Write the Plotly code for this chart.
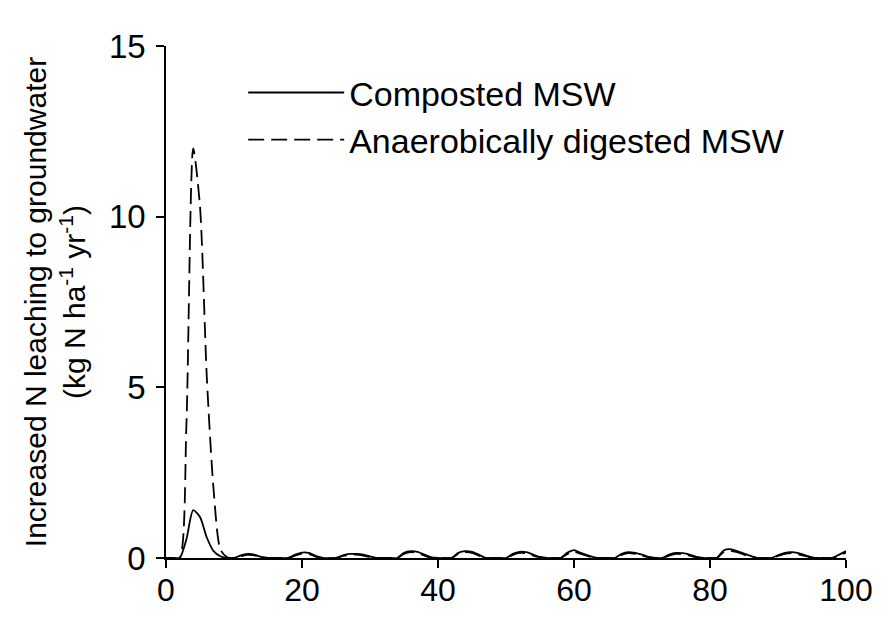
import plotly.graph_objects as go

years = list(range(0, 101))

composted = [
    0, 0, 0, 0.55, 1.4, 1.2, 0.6, 0.2, 0.05, 0,          # 0-9
    0, 0.08, 0.12, 0.1, 0.03, 0, 0, 0, 0, 0.1,            # 10-19
    0.16, 0.15, 0.06, 0, 0, 0, 0.08, 0.12, 0.12, 0.1,     # 20-29
    0.05, 0, 0, 0, 0, 0.15, 0.2, 0.18, 0.1, 0.02,         # 30-39
    0, 0, 0, 0.15, 0.2, 0.18, 0.1, 0, 0, 0,               # 40-49
    0, 0.12, 0.18, 0.17, 0.1, 0.03, 0, 0, 0, 0.15,        # 50-59
    0.23, 0.15, 0.08, 0.02, 0, 0, 0, 0.12, 0.17, 0.15,    # 60-69
    0.1, 0.03, 0, 0, 0.1, 0.15, 0.14, 0.1, 0.03, 0,       # 70-79
    0, 0, 0.22, 0.26, 0.2, 0.13, 0.06, 0, 0, 0,           # 80-89
    0.08, 0.15, 0.17, 0.14, 0.08, 0.02, 0, 0, 0, 0.1,     # 90-99
    0.2,                                                  # 100
]

digested = [
    0, 0, 0, 3.9, 12.0, 10.3, 5.3, 2.0, 0.25, 0.02,       # 0-9
    0, 0.05, 0.09, 0.08, 0.02, 0, 0, 0, 0, 0.07,          # 10-19
    0.13, 0.12, 0.04, 0, 0, 0, 0.06, 0.1, 0.1, 0.07,      # 20-29
    0.03, 0, 0, 0, 0, 0.12, 0.17, 0.15, 0.07, 0.01,       # 30-39
    0, 0, 0, 0.12, 0.17, 0.15, 0.07, 0, 0, 0,             # 40-49
    0, 0.09, 0.15, 0.14, 0.07, 0.02, 0, 0, 0, 0.11,       # 50-59
    0.19, 0.12, 0.06, 0.01, 0, 0, 0, 0.09, 0.14, 0.12,    # 60-69
    0.07, 0.02, 0, 0, 0.07, 0.12, 0.11, 0.07, 0.02, 0,    # 70-79
    0, 0, 0.17, 0.21, 0.17, 0.1, 0.04, 0, 0, 0,           # 80-89
    0.06, 0.12, 0.14, 0.11, 0.06, 0.01, 0, 0, 0, 0.08,    # 90-99
    0.16,                                                 # 100
]

x_ticks = [0, 20, 40, 60, 80, 100]
y_ticks = [0, 5, 10, 15]

font_family = "Liberation Sans, Arial, sans-serif"

fig = go.Figure()
fig.add_trace(go.Scatter(
    x=years, y=composted, mode="lines", name="Composted MSW",
    line=dict(color="black", width=1.8, shape="spline", smoothing=0.7),
))
fig.add_trace(go.Scatter(
    x=years, y=digested, mode="lines", name="Anaerobically digested MSW",
    line=dict(color="black", width=1.8, dash="16px,7px", shape="spline", smoothing=0.7),
))

# page body has an 8px margin, so the figure is sized to fit inside the window
fig.update_layout(
    width=866, height=601,
    margin=dict(l=158, r=28, t=38, b=51),
    paper_bgcolor="white", plot_bgcolor="white",
    font=dict(family=font_family, size=32, color="black"),
    showlegend=True,
    legend=dict(
        x=0.1135, y=0.965, xanchor="left", yanchor="top",
        bgcolor="rgba(0,0,0,0)", font=dict(size=34),
        itemwidth=96, tracegroupgap=0,
    ),
    xaxis=dict(
        range=[0, 100], tickvals=x_ticks, showgrid=False, zeroline=False,
        showline=True, linecolor="black", linewidth=1.5,
        ticks="outside", ticklen=8, tickwidth=1.5, tickcolor="black",
        tickfont=dict(size=32), automargin=False,
        ticklabeloverflow="allow", ticklabelstandoff=-5,
    ),
    yaxis=dict(
        range=[0, 15], tickvals=y_ticks, showgrid=False, zeroline=False,
        showline=True, linecolor="black", linewidth=1.5,
        ticks="outside", ticklen=8, tickwidth=1.5, tickcolor="black",
        tickfont=dict(size=33), automargin=False, ticklabelstandoff=4,
        title=dict(
            text="Increased N leaching to groundwater<br>(kg N ha<sup>-1</sup> yr<sup>-1</sup>)",
            font=dict(size=30), standoff=14,
        ),
    ),
)

fig.write_html("out.html")
